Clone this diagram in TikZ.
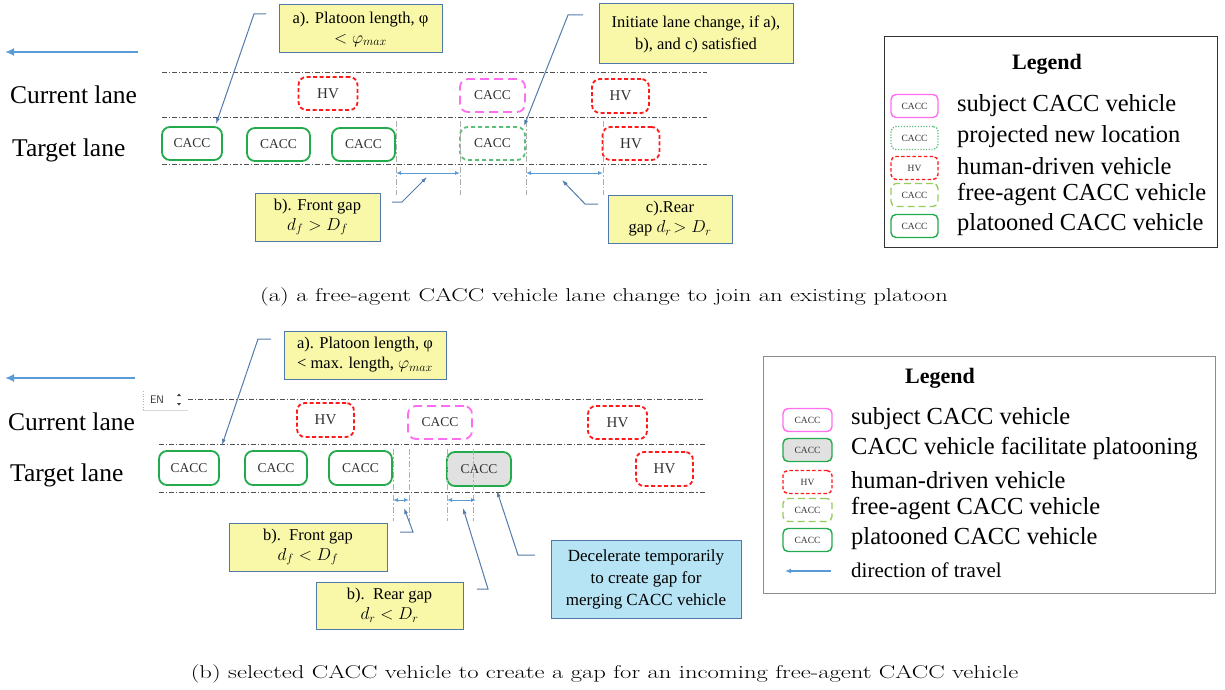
\documentclass[tikz,border=0pt]{standalone}
\usepackage{fontspec}
\usepackage{graphicx}
\newfontfamily\tnr{Liberation Serif}
\usetikzlibrary{arrows.meta}
\definecolor{cgreen}{RGB}{34,170,76}
\definecolor{cred}{RGB}{255,25,25}
\definecolor{cpink}{RGB}{255,110,240}
\definecolor{clgreen}{RGB}{150,205,90}
\definecolor{cproj}{RGB}{90,190,120}
\definecolor{cyel}{RGB}{248,248,168}
\definecolor{cbord}{RGB}{80,120,170}
\definecolor{cblue}{RGB}{91,155,213}
\definecolor{clead}{RGB}{84,124,170}
\definecolor{clane}{RGB}{80,80,80}
\definecolor{cgap}{RGB}{175,175,175}
\definecolor{ccyan}{RGB}{182,228,245}
\definecolor{cgrayfill}{RGB}{225,225,225}
\definecolor{ctext}{RGB}{50,50,50}
\tikzset{
  veh/.style={rounded corners=8, line width=1.8, minimum width=60, minimum height=33, inner sep=0, text=ctext, font=\tnr\fontsize{13.5}{13.5}\selectfont},
  plat/.style={veh, draw=cgreen},
  hvveh/.style={veh, draw=cred, dash pattern=on 4 off 2.5, font=\tnr\fontsize{15}{15}\selectfont},
  subj/.style={veh, draw=cpink, dash pattern=on 9 off 5},
  projveh/.style={veh, draw=cproj, dash pattern=on 4 off 3},
  mini/.style={rounded corners=5, line width=1.4, minimum width=47, minimum height=23, inner sep=0, text=ctext, font=\tnr\fontsize{9.5}{9.5}\selectfont},
  lanel/.style={draw=clane, line width=0.9, dash pattern=on 5 off 2 on 1.2 off 2},
  gapl/.style={draw=cgap, line width=0.9, dash pattern=on 6 off 2 on 1.5 off 2},
  gaparrow/.style={draw=cblue, line width=1, {Latex[length=5,width=4]}-{Latex[length=5,width=4]}},
  callout/.style={draw=cbord, fill=cyel, line width=1, align=center, inner sep=2, font=\tnr\fontsize{16.5}{22}\selectfont},
  leader/.style={draw=clead, line width=1, -{Latex[length=6,width=4]}},
  dirarrow/.style={draw=cblue, line width=2.5, -{Latex[length=9,width=8]}},
  lanetext/.style={anchor=west, inner sep=0, font=\tnr\fontsize{25.5}{25.5}\selectfont},
  legtext/.style={anchor=west, inner sep=0, font=\tnr\fontsize{24.5}{25}\selectfont},
  legtitle/.style={inner sep=0, font=\tnr\bfseries\fontsize{22}{22}\selectfont},
  capt/.style={inner sep=0, font=\fontsize{18.5}{20}\selectfont}
}
\begin{document}
\begin{tikzpicture}[x=1pt,y=-1pt]
\useasboundingbox (0,0) rectangle (1225,690);
\fill[white] (0,0) rectangle (1225,690);

%================ panel (a) =================
\coordinate (dA1) at (138,52); \coordinate (dA0) at (5,52);
\draw[dirarrow] (dA1) -- (dA0);
\draw[lanel] (162,72) -- (707,72);
\draw[lanel] (162,117) -- (707,117);
\draw[lanel] (162,164) -- (707,164);
\node[lanetext] (curA) at (10,95) {Current lane};
\node[lanetext] (tarA) at (12,150) {Target lane};

\node[hvveh, minimum width=59, minimum height=33] (hvA1) at (328,93.5) {HV};
\node[subj, minimum width=65] (subA) at (492.5,95.5) {CACC};
\node[hvveh, minimum width=57, minimum height=34] (hvA2) at (620.5,96) {HV};
\node[plat] (pA1) at (192,143.5) {CACC};
\node[plat, minimum width=63] (pA2) at (278.5,144.5) {CACC};
\node[plat, minimum width=63] (pA3) at (363.5,144.5) {CACC};
\node[projveh, minimum width=65] (prA) at (492.5,143.5) {CACC};
\node[hvveh, minimum width=57] (hvA3) at (631,143.5) {HV};

\foreach \x in {396,460,526,603} \draw[gapl] (\x,121) -- (\x,195);
\coordinate (gfA0) at (396,173); \coordinate (gfA1) at (460,173);
\coordinate (grA0) at (526,173); \coordinate (grA1) at (603,173);
\draw[gaparrow] (gfA0) -- (gfA1);
\draw[gaparrow] (grA0) -- (grA1);

\node[callout, minimum width=163, minimum height=48] (cA) at (360.5,29) {a). Platoon length, φ\\[-2pt] $<\varphi_{max}$};
\node[callout, minimum width=194, minimum height=60] (cI) at (696,34) {Initiate lane change, if a),\\ b), and c) satisfied};
\node[callout, minimum width=125, minimum height=48] (cBf) at (317.5,217) {b). Front gap\\[-2pt] $d_f > D_f$};
\node[callout, minimum width=124, minimum height=48] (cCr) at (670,219) {c).Rear\\[-2pt] gap $d_r\!> D_r$};

\coordinate (lA0) at (266,14); \coordinate (lA1) at (254,14); \coordinate (lA2) at (216,124);
\draw[leader] (lA0) -- (lA1) -- (lA2);
\coordinate (lI0) at (583,15); \coordinate (lI1) at (568,15); \coordinate (lI2) at (524,126);
\draw[leader] (lI0) -- (lI1) -- (lI2);
\coordinate (lB0) at (392,202); \coordinate (lB1) at (402,202); \coordinate (lB2) at (427,177);
\draw[leader] (lB0) -- (lB1) -- (lB2);
\coordinate (lC0) at (598,204); \coordinate (lC1) at (585,204); \coordinate (lC2) at (562,180);
\draw[leader] (lC0) -- (lC1) -- (lC2);

% legend (a)
\node[draw=black!80, line width=1, minimum width=333, minimum height=210, inner sep=0] (legA) at (1050.5,142) {};
\node[legtitle] (legAt) at (1047,64) {Legend};
\node[mini, draw=cpink] (mA1) at (914.5,106) {CACC};
\node[mini, draw=cproj, dash pattern=on 1.2 off 1.6] (mA2) at (914.5,138) {CACC};
\node[mini, draw=cred, dash pattern=on 3.5 off 2.2] (mA3) at (914.5,168) {HV};
\node[mini, draw=clgreen, dash pattern=on 7 off 4] (mA4) at (914.5,195) {CACC};
\node[mini, draw=cgreen] (mA5) at (914.5,226) {CACC};
\node[legtext] at (957,106) {subject CACC vehicle};
\node[legtext] at (957,137) {projected new location};
\node[legtext] at (957,166) {human-driven vehicle};
\node[legtext] at (957,195) {free-agent CACC vehicle};
\node[legtext] at (957,225) {platooned CACC vehicle};

\node[capt] (capA) at (604,297) {\scalebox{1.33}[1]{(a) a free-agent CACC vehicle lane change to join an existing platoon}};

%================ panel (b) =================
\coordinate (dB1) at (135,378); \coordinate (dB0) at (5,378);
\draw[dirarrow] (dB1) -- (dB0);
% EN widget
\draw[black!30, line width=0.6, dotted] (143,391) -- (143,410);
\draw[black!15, line width=0.8] (143,410) -- (188,410);
\node[inner sep=0, font=\sffamily\fontsize{11}{11}\selectfont, text=black!80] (en) at (157,400) {EN};
\fill[black!75] (177,396) -- (181,396) -- (179,393.5) -- cycle;
\fill[black!75] (177,403) -- (181,403) -- (179,405.5) -- cycle;

\draw[lanel] (188,399) -- (705,399);
\draw[lanel] (159,444) -- (705,444);
\draw[lanel] (159,492) -- (705,492);
\node[lanetext] (curB) at (8,422) {Current lane};
\node[lanetext] (tarB) at (10,475) {Target lane};

\node[hvveh, minimum width=57, minimum height=34] (hvB1) at (325.5,420) {HV};
\node[subj, minimum width=64] (subB) at (440,422.5) {CACC};
\node[hvveh, minimum width=59] (hvB2) at (617.5,422.5) {HV};
\node[plat, minimum height=34] (pB1) at (189,468) {CACC};
\node[plat, minimum width=62, minimum height=34] (pB2) at (276,468) {CACC};
\node[plat, minimum width=63, minimum height=34] (pB3) at (360.5,468) {CACC};
\node[plat, fill=cgrayfill, minimum width=64, minimum height=34] (gB) at (479,469) {CACC};
\node[hvveh, minimum width=57, minimum height=34] (hvB3) at (664.5,469) {HV};

\foreach \x in {393,409,447,473} \draw[gapl] (\x,449) -- (\x,521);
\coordinate (gfB0) at (393,500); \coordinate (gfB1) at (409,500);
\coordinate (grB0) at (447,500); \coordinate (grB1) at (476,500);
\draw[gaparrow] (gfB0) -- (gfB1);
\draw[gaparrow] (grB0) -- (grB1);

\node[callout, minimum width=162, minimum height=48] (cA2) at (365,355) {a). Platoon length, φ\\[-2pt] < max. length, $\varphi_{max}$};
\node[callout, minimum width=158, minimum height=48] (cBf2) at (308,547) {b).\ \ Front gap\\[-2pt] $d_f < D_f$};
\node[callout, minimum width=147, minimum height=47] (cBr2) at (389.5,605.5) {b).\ \ Rear gap\\[-2pt] $d_r < D_r$};
\node[callout, fill=ccyan, minimum width=190, minimum height=78, font=\tnr\fontsize{17}{22}\selectfont] (cDec) at (646,579) {Decelerate temporarily\\ to create gap for\\ merging CACC vehicle};

\coordinate (mA0) at (271,339); \coordinate (mA1c) at (258,339); \coordinate (mA2c) at (222,445);
\draw[leader] (mA0) -- (mA1c) -- (mA2c);
\coordinate (mF0) at (400,532); \coordinate (mF1) at (413,532); \coordinate (mF2) at (404,508);
\draw[leader] (mF0) -- (mF1) -- (mF2);
\coordinate (mR0) at (477,589); \coordinate (mR1) at (488,589); \coordinate (mR2) at (463,508);
\draw[leader] (mR0) -- (mR1) -- (mR2);
\coordinate (mD0) at (535,555); \coordinate (mD1) at (518,555); \coordinate (mD2) at (497,491);
\draw[leader] (mD0) -- (mD1) -- (mD2);

% legend (b)
\node[draw=black!45, line width=1, minimum width=452, minimum height=237, inner sep=0] (legB) at (989,474.5) {};
\node[legtitle] (legBt) at (940,378) {Legend};
\node[mini, draw=cpink, minimum width=49] (nB1) at (807.5,420) {CACC};
\node[mini, draw=cgreen, fill=cgrayfill, minimum width=49] (nB2) at (807.5,450) {CACC};
\node[mini, draw=cred, dash pattern=on 3.5 off 2.2, minimum width=49] (nB3) at (807.5,482) {HV};
\node[mini, draw=clgreen, dash pattern=on 7 off 4, minimum width=49] (nB4) at (807.5,510) {CACC};
\node[mini, draw=cgreen, minimum width=49] (nB5) at (807.5,540) {CACC};
\coordinate (nB6a) at (831,571); \coordinate (nB6b) at (785,571);
\draw[draw=cblue, line width=2, -{Latex[length=6,width=5]}] (nB6a) -- (nB6b);
\node[legtext] at (851,419) {subject CACC vehicle};
\node[legtext] at (851,449) {CACC vehicle facilitate platooning};
\node[legtext] at (851,480) {human-driven vehicle};
\node[legtext] at (851,509) {free-agent CACC vehicle};
\node[legtext] at (851,539) {platooned CACC vehicle};
\node[legtext, font=\tnr\fontsize{21}{21}\selectfont] at (851,570) {direction of travel};

\node[capt] (capB) at (604.5,674) {\scalebox{1.33}[1]{(b) selected CACC vehicle to create a gap for an incoming free-agent CACC vehicle}};
\end{tikzpicture}
\end{document}
